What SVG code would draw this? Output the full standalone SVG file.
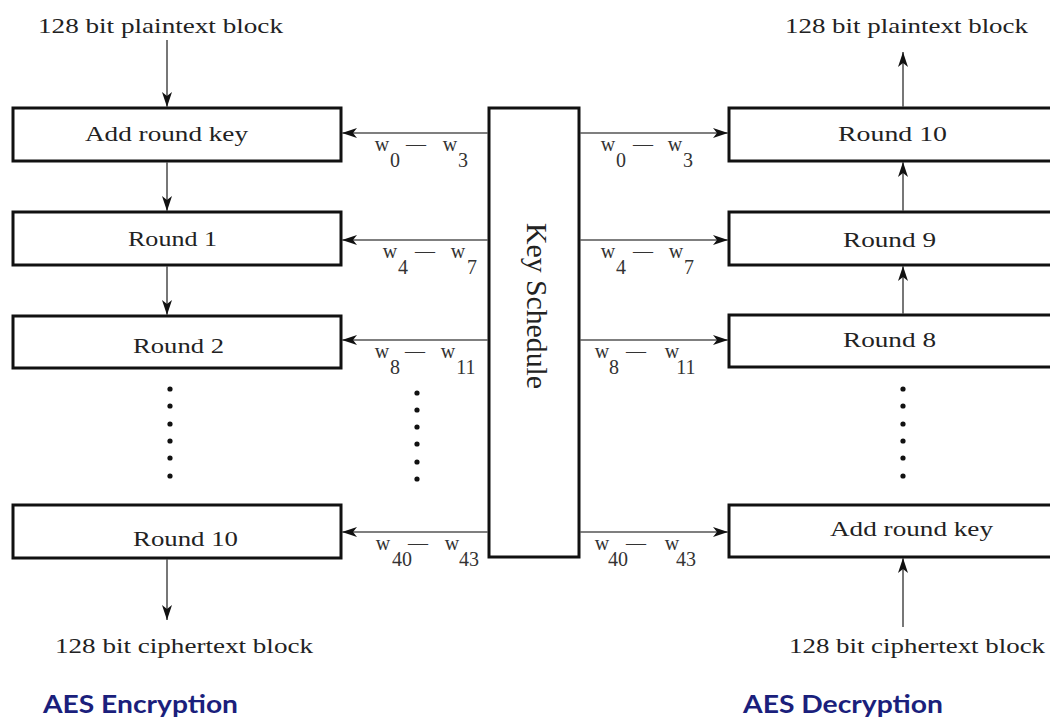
<svg xmlns="http://www.w3.org/2000/svg" width="1050" height="720" viewBox="0 0 1050 720">
<style>
.box{fill:#fff;stroke:#111;stroke-width:3}
.t{font-family:"Liberation Serif","Times New Roman",serif;font-size:22px;fill:#222}
.w{font-family:"Liberation Serif","Times New Roman",serif;font-size:20px;fill:#333;text-anchor:middle}
.ar{stroke:#555;stroke-width:1.6;fill:none;marker-end:url(#ah)}
.dot{fill:#111}
.title{font-family:Lato,"Open Sans",sans-serif;font-weight:bold;font-size:25px;fill:#1b1f7c}
</style>
<defs>
<marker id="ah" markerUnits="userSpaceOnUse" markerWidth="16" markerHeight="12" refX="15" refY="6" orient="auto">
<path d="M0,1 L15,6 L0,11 L4,6 z" fill="#111"/>
</marker>
</defs>
<rect width="1050" height="720" fill="#fff"/>

<g id="enc-input"><text class="t" x="38" y="33" textLength="245" lengthAdjust="spacingAndGlyphs">128 bit plaintext block</text></g>
<g id="enc-addroundkey"><rect class="box" x="13" y="108" width="328" height="53"/><text class="t" x="85" y="141" textLength="163" lengthAdjust="spacingAndGlyphs">Add round key</text></g>
<g id="enc-round1"><rect class="box" x="13" y="212" width="328" height="53"/><text class="t" x="128" y="246" textLength="89" lengthAdjust="spacingAndGlyphs">Round 1</text></g>
<g id="enc-round2"><rect class="box" x="13" y="316" width="328" height="52"/><text class="t" x="133" y="353" textLength="91" lengthAdjust="spacingAndGlyphs">Round 2</text></g>
<g id="enc-round10"><rect class="box" x="13" y="505" width="328" height="53"/><text class="t" x="133" y="546" textLength="105" lengthAdjust="spacingAndGlyphs">Round 10</text></g>
<g id="enc-output"><text class="t" x="55" y="653" textLength="258" lengthAdjust="spacingAndGlyphs">128 bit ciphertext block</text></g>
<g id="enc-dots"><circle class="dot" cx="170" cy="389" r="2.6"/><circle class="dot" cx="170" cy="406" r="2.6"/><circle class="dot" cx="170" cy="424" r="2.6"/><circle class="dot" cx="170" cy="441" r="2.6"/><circle class="dot" cx="170" cy="458" r="2.6"/><circle class="dot" cx="170" cy="476" r="2.6"/></g>

<g id="key-schedule"><rect class="box" x="489" y="108" width="90" height="449"/><text class="t" transform="translate(527,306) rotate(90)" text-anchor="middle" textLength="166" lengthAdjust="spacingAndGlyphs" style="font-size:30px">Key Schedule</text></g>
<g id="key-dots"><circle class="dot" cx="417" cy="393" r="2.6"/><circle class="dot" cx="417" cy="410" r="2.6"/><circle class="dot" cx="417" cy="427" r="2.6"/><circle class="dot" cx="417" cy="444" r="2.6"/><circle class="dot" cx="417" cy="462" r="2.6"/><circle class="dot" cx="417" cy="479" r="2.6"/></g>

<g id="dec-output"><text class="t" x="785" y="33" textLength="243" lengthAdjust="spacingAndGlyphs">128 bit plaintext block</text></g>
<g id="dec-round10"><rect class="box" x="729" y="108" width="330" height="53"/><text class="t" x="838" y="141" textLength="109" lengthAdjust="spacingAndGlyphs">Round 10</text></g>
<g id="dec-round9"><rect class="box" x="729" y="212" width="330" height="53"/><text class="t" x="843" y="247" textLength="93" lengthAdjust="spacingAndGlyphs">Round 9</text></g>
<g id="dec-round8"><rect class="box" x="729" y="315" width="330" height="52"/><text class="t" x="843" y="347" textLength="93" lengthAdjust="spacingAndGlyphs">Round 8</text></g>
<g id="dec-addroundkey"><rect class="box" x="729" y="505" width="330" height="52"/><text class="t" x="830" y="536" textLength="163" lengthAdjust="spacingAndGlyphs">Add round key</text></g>
<g id="dec-input"><text class="t" x="789" y="653" textLength="256" lengthAdjust="spacingAndGlyphs">128 bit ciphertext block</text></g>
<g id="dec-dots"><circle class="dot" cx="903" cy="389" r="2.6"/><circle class="dot" cx="903" cy="406" r="2.6"/><circle class="dot" cx="903" cy="424" r="2.6"/><circle class="dot" cx="903" cy="441" r="2.6"/><circle class="dot" cx="903" cy="458" r="2.6"/><circle class="dot" cx="903" cy="476" r="2.6"/></g>

<g id="connectors">
<line class="ar" x1="167" y1="40" x2="167" y2="107"/>
<line class="ar" x1="167" y1="162" x2="167" y2="211"/>
<line class="ar" x1="167" y1="266" x2="167" y2="315"/>
<line class="ar" x1="167" y1="559" x2="167" y2="620"/>
<line class="ar" x1="903" y1="107" x2="903" y2="52"/>
<line class="ar" x1="903" y1="211" x2="903" y2="162"/>
<line class="ar" x1="903" y1="314" x2="903" y2="266"/>
<line class="ar" x1="903" y1="627" x2="903" y2="558"/>
<line class="ar" x1="488" y1="133" x2="342" y2="133"/>
<line class="ar" x1="488" y1="240" x2="342" y2="240"/>
<line class="ar" x1="488" y1="340" x2="342" y2="340"/>
<line class="ar" x1="488" y1="532" x2="342" y2="532"/>
<line class="ar" x1="580" y1="133" x2="728" y2="133"/>
<line class="ar" x1="580" y1="240" x2="728" y2="240"/>
<line class="ar" x1="580" y1="340" x2="728" y2="340"/>
<line class="ar" x1="580" y1="532" x2="728" y2="532"/>
</g>

<g id="key-labels">
<text class="w" x="382" y="151">w</text><text class="w" x="395" y="167">0</text><text class="w" x="416" y="151">—</text><text class="w" x="450" y="151">w</text><text class="w" x="463" y="167">3</text>
<text class="w" x="608" y="151">w</text><text class="w" x="621" y="167">0</text><text class="w" x="643" y="151">—</text><text class="w" x="675" y="151">w</text><text class="w" x="688" y="167">3</text>
<text class="w" x="390" y="258">w</text><text class="w" x="403" y="274">4</text><text class="w" x="425" y="258">—</text><text class="w" x="458" y="258">w</text><text class="w" x="472" y="274">7</text>
<text class="w" x="608" y="258">w</text><text class="w" x="621" y="274">4</text><text class="w" x="643" y="258">—</text><text class="w" x="676" y="258">w</text><text class="w" x="689" y="274">7</text>
<text class="w" x="382" y="358">w</text><text class="w" x="395" y="374">8</text><text class="w" x="415" y="358">—</text><text class="w" x="448" y="358">w</text><text class="w" x="466" y="374">11</text>
<text class="w" x="602" y="358">w</text><text class="w" x="614" y="374">8</text><text class="w" x="636" y="358">—</text><text class="w" x="672" y="358">w</text><text class="w" x="686" y="374">11</text>
<text class="w" x="383" y="550">w</text><text class="w" x="402" y="566">40</text><text class="w" x="418" y="550">—</text><text class="w" x="452" y="550">w</text><text class="w" x="469" y="566">43</text>
<text class="w" x="602" y="550">w</text><text class="w" x="618" y="566">40</text><text class="w" x="636" y="550">—</text><text class="w" x="672" y="550">w</text><text class="w" x="686" y="566">43</text>
</g>

<g id="titles">
<text class="title" x="43" y="713" textLength="195" lengthAdjust="spacingAndGlyphs">AES Encryption</text>
<text class="title" x="743" y="713" textLength="200" lengthAdjust="spacingAndGlyphs">AES Decryption</text>
</g>
</svg>
